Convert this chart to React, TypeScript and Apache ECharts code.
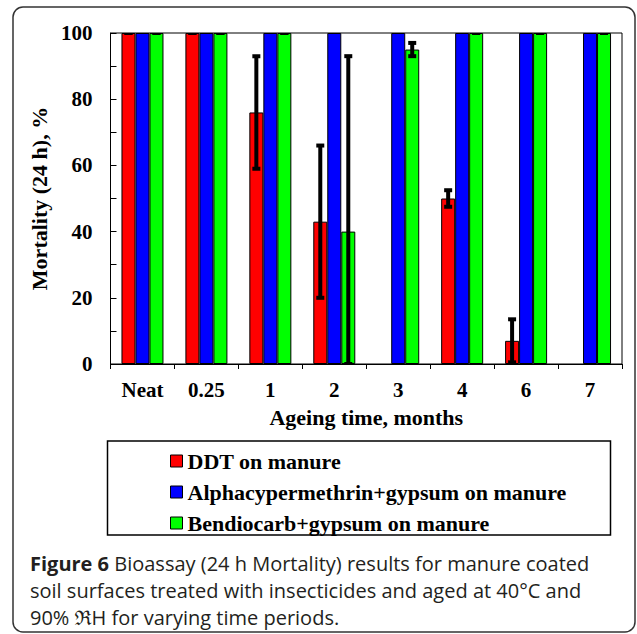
import React, { useEffect, useRef } from "react";
import * as echarts from "echarts";

const categories = ["Neat", "0.25", "1", "2", "3", "4", "6", "7"];
const ddt = [100, 100, 76, 43, 0, 50, 7, 0];
const alpha = [100, 100, 100, 100, 100, 100, 100, 100];
const bendio = [100, 100, 100, 40, 95, 100, 100, 100];
const ddtErr: (number | null)[] = [0, 0, 17, 23, null, 2.5, 6.5, null];
const bendioErr: (number | null)[] = [0, 0, 0, 53, 2, 0, 0, 0];
const seriesNames = [
  "DDT on manure",
  "Alphacypermethrin+gypsum on manure",
  "Bendiocarb+gypsum on manure",
];
const yLabelTicks = [0, 20, 40, 60, 80, 100];
const xAxisTitle = "Ageing time, months";
const yAxisTitle = "Mortality (24 h), %";
const captionLines = [
  " Bioassay (24 h Mortality) results for manure coated",
  "soil surfaces treated with insecticides and aged at 40°C and",
  "90% \u211CH for varying time periods.",
];

const SERIF = "'Liberation Serif', 'Times New Roman', serif";
const SANS = "'Open Sans', 'Noto Sans', sans-serif";
const CAP = 20;

function errData(vals: number[], errs: (number | null)[]) {
  const out: number[][] = [];
  errs.forEach((e, i) => {
    if (e !== null) out.push([i, vals[i], e]);
  });
  return out;
}

// zero-height bars are not drawn (no visible outline at the axis in the reference)
const barData = (vals: number[]) => vals.map((v) => (v === 0 ? null : v));

function makeErrRender(offset: number) {
  return (params: any, api: any) => {
    const i = api.value(0);
    const v = api.value(1);
    const e = api.value(2);
    const top = api.coord([i, v + e]);
    const bot = api.coord([i, Math.max(0, v - e)]);
    const cx = top[0] + offset;
    return {
      type: "group",
      children: [
        {
          type: "line",
          shape: { x1: cx, y1: top[1], x2: cx, y2: bot[1] },
          style: { stroke: "#000", lineWidth: 4 },
        },
        {
          type: "rect",
          shape: { x: cx - 4, y: top[1] - 2, width: 8, height: 4 },
          style: { fill: "#000" },
        },
        {
          type: "rect",
          shape: { x: cx - 4, y: bot[1] - 2, width: 8, height: 4 },
          style: { fill: "#000" },
        },
      ],
    };
  };
}

export default function App() {
  const ref = useRef<HTMLDivElement>(null);
  useEffect(() => {
    if (!ref.current) return;
    const chart = echarts.init(ref.current, null, { renderer: "svg" });
    const barBase = {
      type: "bar",
      barWidth: 14,
      barGap: "0%",
      itemStyle: { borderColor: "#000", borderWidth: 1 },
      z: 2,
    };
    chart.setOption({
      animation: false,
      backgroundColor: "#fff",
      grid: {
        left: 110.5,
        right: 15,
        top: 33,
        bottom: 270,
        show: true,
        borderColor: "#000",
        borderWidth: 1,
        backgroundColor: "transparent",
      },
      legend: {
        orient: "vertical",
        left: 165,
        top: 445,
        itemWidth: 12,
        itemHeight: 12,
        itemGap: 9,
        icon: "rect",
        data: seriesNames,
        itemStyle: { borderColor: "#000", borderWidth: 1 },
        textStyle: {
          fontFamily: SERIF,
          fontWeight: "bold",
          fontSize: 22,
          color: "#000",
        },
      },
      xAxis: {
        type: "category",
        data: categories,
        axisLine: { lineStyle: { color: "#000", width: 1 } },
        axisTick: { show: true, length: 5, lineStyle: { color: "#000" } },
        axisLabel: {
          fontFamily: SERIF,
          fontWeight: "bold",
          fontSize: 21,
          color: "#000",
          margin: 15,
        },
        name: xAxisTitle,
        nameLocation: "middle",
        nameGap: 42,
        nameTextStyle: {
          fontFamily: SERIF,
          fontWeight: "bold",
          fontSize: 22,
          color: "#000",
        },
      },
      yAxis: {
        type: "value",
        min: 0,
        max: 100,
        interval: 10,
        splitLine: { show: false },
        axisLine: { show: true, lineStyle: { color: "#000", width: 1 } },
        axisTick: {
          show: true,
          inside: true,
          length: 6,
          lineStyle: { color: "#000" },
        },
        axisLabel: {
          fontFamily: SERIF,
          fontWeight: "bold",
          fontSize: 21,
          color: "#000",
          margin: 18,
          formatter: (v: number) => (yLabelTicks.includes(v) ? String(v) : ""),
        },
        name: yAxisTitle,
        nameLocation: "middle",
        nameGap: 58,
        nameTextStyle: {
          fontFamily: SERIF,
          fontWeight: "bold",
          fontSize: 22,
          color: "#000",
        },
      },
      series: [
        { ...barBase, name: seriesNames[0], data: barData(ddt), itemStyle: { ...barBase.itemStyle, color: "#FF0000" } },
        { ...barBase, name: seriesNames[1], data: barData(alpha), itemStyle: { ...barBase.itemStyle, color: "#0000FF" } },
        { ...barBase, name: seriesNames[2], data: barData(bendio), itemStyle: { ...barBase.itemStyle, color: "#00FF00" } },
        {
          type: "custom",
          name: "ddt-err",
          data: errData(ddt, ddtErr),
          encode: { x: 0, y: 1 },
          renderItem: makeErrRender(-14),
          clip: true,
          z: 5,
        },
        {
          type: "custom",
          name: "bendio-err",
          data: errData(bendio, bendioErr),
          encode: { x: 0, y: 1 },
          renderItem: makeErrRender(14),
          clip: true,
          z: 5,
        },
      ],
      graphic: [
        {
          type: "rect",
          shape: { x: 13, y: 7, width: 622, height: 625, r: 10 },
          style: { fill: "none", stroke: "#333", lineWidth: 1.5 },
          silent: true,
        },
        {
          type: "rect",
          shape: { x: 107.5, y: 441, width: 503, height: 94 },
          style: { fill: "none", stroke: "#000", lineWidth: 1.5 },
          silent: true,
        },
        {
          type: "text",
          x: 30,
          y: 563,
          style: {
            text: "{b|Figure 6}" + captionLines[0],
            fontFamily: SANS,
            fontSize: CAP,
            fill: "#231F20",
            verticalAlign: "middle",
            rich: {
              b: { fontFamily: SANS, fontSize: CAP, fontWeight: "bold", fill: "#231F20" },
            },
          },
        },
        {
          type: "text",
          x: 30,
          y: 590,
          style: {
            text: captionLines[1],
            fontFamily: SANS,
            fontSize: CAP,
            fill: "#231F20",
            verticalAlign: "middle",
          },
        },
        {
          type: "text",
          x: 30,
          y: 617,
          style: {
            text: captionLines[2],
            fontFamily: SANS,
            fontSize: CAP,
            fill: "#231F20",
            verticalAlign: "middle",
          },
        },
      ],
    });
    return () => chart.dispose();
  }, []);
  return (
    <div
      ref={ref}
      style={{ position: "fixed", left: 0, top: 0, width: 637, height: 634 }}
    />
  );
}
